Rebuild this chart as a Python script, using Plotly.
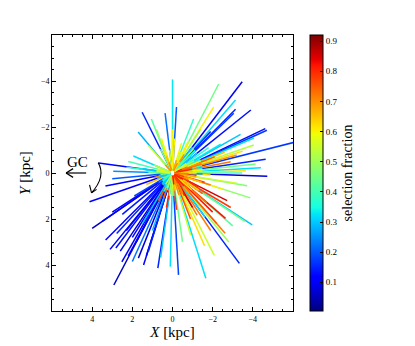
import numpy as np
import plotly.graph_objects as go
from plotly.colors import sample_colorscale

# sightline end points (kpc), selection fraction of the outer part,
# selection fraction of the inner part and the extent of that inner part (kpc)
sl_x = [0.0, 1.51, 1.71, 0.37, 1.05, -0.2, 1.95, 3.68, 2.95, 1.6, 0.8, 0.55, 1.2, 2.2, 2.3,
        -2.3, -3.47, -2.05, -1.05, -3.14, -3.14, -3.05, -3.9, -4.62, -4.7, -6.5, -3.39, -4.05,
        -4.05, -3.5, -3.2, -4.64, -4.4, -4.14, -3.47, -3.65, -2.9, -2.1, -1.9, -1.4, -0.8, -1.8,
        -2.4, -2.6, -0.45,
        -4.72, -3.72, -3.87, -2.72, -2.64, -3.97, -3.6, -2.62, -3.33, -2.08, -1.6, -1.66, -0.3,
        0.11, -0.5, -1.22, -1.9, -3.2, -2.9, -2.2, -3.0, -1.9, -0.9, -1.0, -0.2, -0.6, -1.5,
        -1.9, -2.5, -2.8,
        3.34, 4.13, 4.0, 2.78, 3.33, 3.11, 2.82, 2.52, 2.0, 1.44, 2.92, 0.73, 0.59, 2.3, 1.8,
        1.2, 2.5, 1.5, 1.0, 3.0, 1.9, 0.7, 0.3, 0.5, 3.0,
        2.6, 2.2, 1.7, 3.5, 2.0, 1.3,
        0.3, -0.5, -0.9, 0.8, 0.9, -1.2, -0.4, 0.2, -1.6, -0.8, 1.3, 0.45,
        -1.3, -1.7, -0.9, -2.0]
sl_y = [-4.07, -2.64, -1.78, -2.6, -2.35, -2.87, -0.74, -0.43, -0.08, -0.2, -1.9, -1.5, -1.2, -0.5, -0.25,
        -3.87, -3.97, -2.86, -2.35, -3.17, -2.77, -2.6, -2.74, -1.93, -1.86, -1.43, -1.68, -1.52,
        -1.22, -0.95, -0.78, -0.6, -0.23, -0.39, 0.0, -0.1, -0.49, -0.7, -1.8, -1.9, -1.4, -1.1,
        -1.25, -0.9, -1.3,
        0.14, 0.55, 1.08, 1.2, 1.97, 2.26, 2.1, 2.62, 3.93, 3.58, 3.17, 4.58, 4.43,
        4.07, 2.99, 1.83, 0.52, 0.45, 1.5, 2.2, 2.3, 2.5, 2.7, 1.5, 1.6, 1.0, 0.9,
        0.09, 0.7, 3.0,
        0.57, 1.25, 2.41, 2.63, 2.91, 3.32, 3.26, 3.86, 3.85, 4.0, 4.87, 4.14, 3.67, 2.5, 3.0,
        3.4, 1.8, 2.2, 2.5, 1.7, 1.0, 1.2, 1.5, 0.5, 0.25,
        3.4, 3.6, 3.7, 2.1, 2.8, 3.6,
        -0.8, -0.5, -0.3, -0.3, 0.2, 0.1, 0.6, 0.9, 0.4, 0.3, 0.5, 1.1,
        0.6, 1.3, 2.0, 1.7]
sl_f = [0.33, 0.15, 0.28, 0.22, 0.42, 0.2, 0.32, 0.12, 0.25, 0.33, 0.5, 0.6, 0.55, 0.4, 0.38,
        0.45, 0.1, 0.6, 0.38, 0.32, 0.15, 0.17, 0.13, 0.13, 0.17, 0.17, 0.3, 0.32,
        0.52, 0.62, 0.7, 0.15, 0.32, 0.45, 0.4, 0.62, 0.72, 0.75, 0.15, 0.5, 0.6, 0.38,
        0.33, 0.65, 0.6,
        0.08, 0.47, 0.48, 0.85, 0.82, 0.3, 0.45, 0.72, 0.15, 0.55, 0.62, 0.32, 0.18,
        0.32, 0.45, 0.72, 0.72, 0.55, 0.78, 0.75, 0.42, 0.72, 0.55, 0.85, 0.78, 0.8, 0.75,
        0.62, 0.6, 0.5,
        0.12, 0.1, 0.06, 0.15, 0.12, 0.1, 0.13, 0.1, 0.22, 0.12, 0.06, 0.15, 0.3, 0.12, 0.1,
        0.15, 0.14, 0.3, 0.28, 0.12, 0.18, 0.75, 0.8, 0.8, 0.2,
        0.08, 0.1, 0.08, 0.1, 0.12, 0.1,
        0.62, 0.7, 0.75, 0.6, 0.7, 0.8, 0.85, 0.8, 0.78, 0.72, 0.65, 0.75,
        0.8, 0.72, 0.76, 0.82]
sl_fin = [0.6, 0.45, 0.5, 0.55, 0.6, 0.6, 0.5, 0.3, 0.45, 0.55, 0.65, 0.7, 0.7, 0.6, 0.6,
          0.6, 0.3, 0.7, 0.55, 0.5, 0.3, 0.35, 0.3, 0.35, 0.35, 0.4, 0.5, 0.6,
          0.68, 0.72, 0.75, 0.35, 0.5, 0.6, 0.6, 0.7, 0.8, 0.8, 0.4, 0.62, 0.7, 0.55,
          0.55, 0.72, 0.68,
          0.25, 0.6, 0.65, 0.85, 0.82, 0.5, 0.65, 0.72, 0.32, 0.7, 0.72, 0.5, 0.4,
          0.55, 0.65, 0.78, 0.78, 0.68, 0.82, 0.8, 0.62, 0.78, 0.7, 0.85, 0.82, 0.8, 0.8,
          0.72, 0.7, 0.68,
          0.3, 0.3, 0.25, 0.3, 0.3, 0.3, 0.3, 0.3, 0.35, 0.35, 0.25, 0.35, 0.5, 0.3, 0.3,
          0.35, 0.35, 0.5, 0.5, 0.3, 0.4, 0.8, 0.85, 0.85, 0.45,
          0.7, 0.72, 0.7, 0.65, 0.7, 0.72,
          0.7, 0.75, 0.8, 0.65, 0.75, 0.85, 0.85, 0.82, 0.8, 0.78, 0.72, 0.8,
          0.8, 0.72, 0.76, 0.82]
sl_rin = [1.9, 1.2, 0.8, 1.0, 1.0, 1.5, 1.0, 1.5, 1.2, 0.8, 0.8, 0.5, 0.5, 0.8, 0.8,
          1.5, 1.5, 1.0, 1.0, 1.5, 1.5, 1.5, 1.5, 1.5, 1.5, 1.5, 1.2, 1.5,
          1.5, 1.5, 1.0, 1.5, 1.5, 1.5, 1.2, 1.0, 1.0, 0.5, 0.8, 0.6, 0.5, 0.8,
          0.8, 0.8, 0.6,
          1.5, 1.5, 1.5, 0.0, 0.0, 1.5, 1.5, 0.0, 2.5, 1.0, 1.0, 1.0, 1.0,
          1.0, 0.8, 0.5, 0.6, 1.2, 0.6, 0.8, 1.2, 0.8, 1.0, 0.0, 0.5, 0.0, 0.5,
          0.8, 0.8, 1.2,
          0.7, 0.8, 0.8, 0.7, 0.7, 0.7, 0.7, 0.7, 0.9, 0.8, 0.7, 0.9, 1.0, 0.6, 0.6,
          0.7, 0.6, 0.6, 0.7, 0.6, 0.5, 0.0, 0.0, 0.0, 0.6,
          0.5, 0.5, 0.5, 0.5, 0.5, 0.5,
          0.0, 0.0, 0.0, 0.0, 0.0, 0.0, 0.0, 0.0, 0.0, 0.0, 0.0, 0.0,
          0.0, 0.0, 0.0, 0.0]

cmin, cmax = 0.005, 0.92
cbar_ticks = [0.1, 0.2, 0.3, 0.4, 0.5, 0.6, 0.7, 0.8, 0.9]
axis_ticks = [-4, -2, 0, 2, 4]

# matplotlib style "jet"
JET = [[0.0, "rgb(0,0,128)"], [0.11, "rgb(0,0,255)"], [0.125, "rgb(0,0,255)"],
       [0.34, "rgb(0,219,255)"], [0.35, "rgb(0,229,247)"], [0.375, "rgb(21,255,226)"],
       [0.64, "rgb(239,255,8)"], [0.65, "rgb(247,245,0)"], [0.66, "rgb(255,236,0)"],
       [0.89, "rgb(255,19,0)"], [0.91, "rgb(232,0,0)"], [1.0, "rgb(128,0,0)"]]

FONT = "Liberation Serif"
R0 = 0.12


def colour(f):
    t = min(max((f - cmin) / (cmax - cmin), 0), 1)
    return sample_colorscale(JET, [t])[0]


def segment(x, y, r_end):
    r = np.hypot(x, y)
    ux, uy = x / r, y / r
    return [R0 * ux, r_end * ux], [R0 * uy, r_end * uy]


fig = go.Figure()

# outer parts first, longest first
order = np.argsort(-np.hypot(sl_x, sl_y))
for i in order:
    r = np.hypot(sl_x[i], sl_y[i])
    xs, ys = segment(sl_x[i], sl_y[i], r)
    fig.add_trace(go.Scatter(x=xs, y=ys, mode="lines", hoverinfo="skip", showlegend=False,
                             line=dict(color=colour(sl_f[i]), width=1.5)))

# inner parts on top
for i in order:
    if sl_rin[i] > 0:
        xs, ys = segment(sl_x[i], sl_y[i], min(sl_rin[i], np.hypot(sl_x[i], sl_y[i])))
        fig.add_trace(go.Scatter(x=xs, y=ys, mode="lines", hoverinfo="skip", showlegend=False,
                                 line=dict(color=colour(sl_fin[i]), width=1.5)))

# colour bar
fig.add_trace(go.Scatter(
    x=[0, 0], y=[0, 0], mode="markers", hoverinfo="skip", showlegend=False,
    marker=dict(color=[cmin, cmax], cmin=cmin, cmax=cmax, colorscale=JET, opacity=0, size=1,
                showscale=True,
                colorbar=dict(thickness=13, len=1, lenmode="fraction", y=0.5, yanchor="middle",
                              x=1.0705, xanchor="left", xpad=0, ypad=0,
                              outlinewidth=1, outlinecolor="black",
                              tickvals=cbar_ticks, ticks="inside", ticklen=3, tickcolor="black",
                              tickfont=dict(family=FONT, size=9, color="black"),
                              title=dict(text="selection fraction", side="right",
                                         font=dict(family=FONT, size=14, color="black"))))))

# GC arrows
fig.add_shape(type="line", x0=4.3, y0=0, x1=5.3, y1=0, line=dict(color="black", width=1.2))
fig.add_shape(type="line", x0=5.3, y0=0, x1=4.95, y1=-0.19, line=dict(color="black", width=1.2))
fig.add_shape(type="line", x0=5.3, y0=0, x1=4.95, y1=0.19, line=dict(color="black", width=1.2))
fig.add_shape(type="path", path="M 3.7,-0.45 Q 3.3,0.15 4.03,0.86",
              line=dict(color="black", width=1.1))
fig.add_shape(type="line", x0=4.03, y0=0.86, x1=4.13, y1=0.52, line=dict(color="black", width=1.1))
fig.add_shape(type="line", x0=4.03, y0=0.86, x1=3.78, y1=0.71, line=dict(color="black", width=1.1))
fig.add_annotation(x=4.72, y=-0.5, text="GC", showarrow=False,
                   font=dict(family=FONT, size=15, color="black"))

axis_style = dict(showgrid=False, zeroline=False, showline=True, linecolor="black", linewidth=1,
                  mirror="allticks", ticks="inside", ticklen=4, tickcolor="black",
                  tickvals=axis_ticks, automargin=False,
                  minor=dict(dtick=0.5, tick0=0, ticks="inside", ticklen=2, tickcolor="black"),
                  tickfont=dict(family=FONT, size=8, color="black"))

fig.update_xaxes(range=[6, -6], title=dict(text="<i>X</i> [kpc]", standoff=0,
                                            font=dict(family=FONT, size=15, color="black")),
                 **axis_style)
fig.update_yaxes(range=[6, -6], title=dict(text="<i>Y</i> [kpc]", standoff=6,
                                            font=dict(family=FONT, size=15, color="black")),
                 **axis_style)

fig.update_layout(width=415, height=346, margin=dict(l=52, r=122, t=35, b=35, autoexpand=False),
                  plot_bgcolor="white", paper_bgcolor="white",
                  font=dict(family=FONT, color="black"))

fig.write_html("out.html", config={"displayModeBar": False},
               post_script="document.body.style.margin='0';")
